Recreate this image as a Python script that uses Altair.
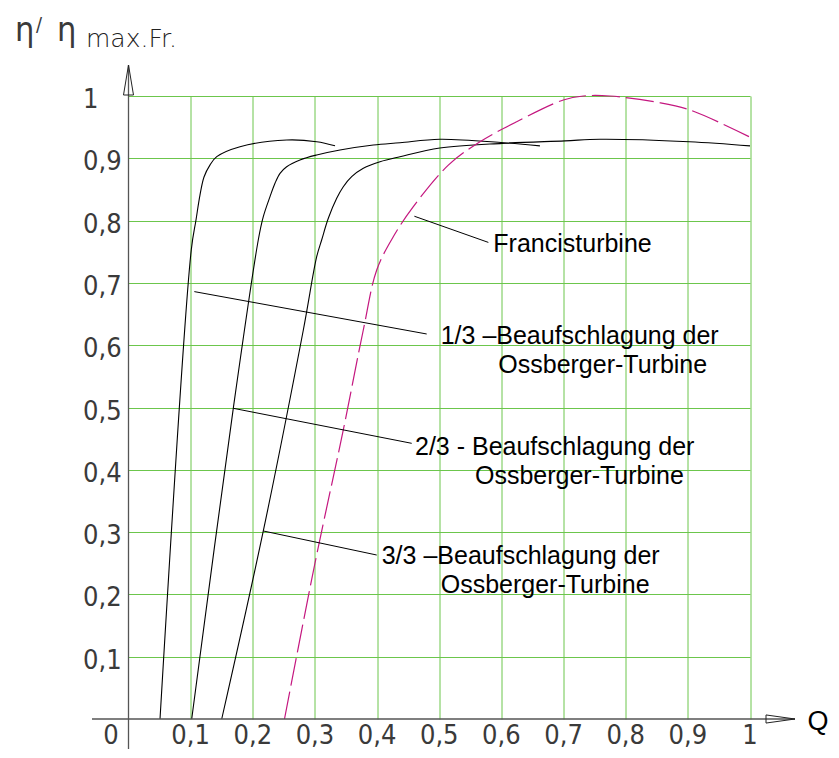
import altair as alt
import pandas as pd

# ---------------- data ----------------
q_13 = [0.0507, 0.101, 0.1086, 0.115, 0.1215, 0.131, 0.142, 0.1794, 0.2545, 0.3028, 0.3323]
eta_13 = [0.0, 0.753, 0.801, 0.841, 0.870, 0.889, 0.9026, 0.9186, 0.9294, 0.9266, 0.920]

q_23 = [0.1017, 0.1686, 0.2088, 0.2169, 0.2277, 0.2357, 0.2438, 0.2545, 0.2759, 0.3028, 0.3403,
        0.3939, 0.4368, 0.501, 0.603, 0.662]
eta_23 = [0.0, 0.4987, 0.7689, 0.8063, 0.8384, 0.8599, 0.8759, 0.8865, 0.8973, 0.9053, 0.9133,
          0.9213, 0.925, 0.9305, 0.925, 0.920]

q_33 = [0.15, 0.2169, 0.2813, 0.3028, 0.3108, 0.3215, 0.335, 0.3456, 0.3591, 0.3778, 0.4047,
        0.4368, 0.501, 0.6014, 0.7023, 0.7587, 0.9023, 1.0]
eta_33 = [0.0, 0.3018, 0.6244, 0.742, 0.7689, 0.8037, 0.8358, 0.8544, 0.8705, 0.884, 0.8945,
          0.9026, 0.9165, 0.924, 0.928, 0.9305, 0.9266, 0.920]

q_fr = [0.251, 0.300, 0.3456, 0.3778, 0.3994, 0.426, 0.458, 0.5146, 0.5656, 0.6246, 0.6996, 0.7318, 0.7747, 0.8499, 0.9035, 1.0]
eta_fr = [0.0, 0.25, 0.464, 0.6244, 0.7207, 0.774, 0.822, 0.889, 0.9266, 0.9587, 0.9936, 1.0, 1.0, 0.990, 0.9775, 0.934]

grid_values = [0.1, 0.2, 0.3, 0.4, 0.5, 0.6, 0.7, 0.8, 0.9, 1.0]
x_tick_values = [0.1, 0.2, 0.3, 0.4, 0.5, 0.6, 0.7, 0.8, 0.9, 1.0]
x_tick_labels = ["0,1", "0,2", "0,3", "0,4", "0,5", "0,6", "0,7", "0,8", "0,9", "1"]
y_tick_values = [0.1, 0.2, 0.3, 0.4, 0.5, 0.6, 0.7, 0.8, 0.9, 1.0]
y_tick_labels = ["0,1", "0,2", "0,3", "0,4", "0,5", "0,6", "0,7", "0,8", "0,9", "1"]

# annotation texts (anchor = left end of baseline, in data units)
ann_text = ["Francisturbine",
            "1/3 \u2013Beaufschlagung der", "Ossberger-Turbine",
            "2/3 - Beaufschlagung der", "Ossberger-Turbine",
            "3/3 \u2013Beaufschlagung der", "Ossberger-Turbine"]
ann_q = [0.587, 0.5023, 0.595, 0.461, 0.5575, 0.4074, 0.5023]
ann_eta = [0.750, 0.6014, 0.555, 0.4238, 0.378, 0.2488, 0.2018]

# leader lines
lead_q1 = [0.460, 0.1059, 0.1686, 0.2169]
lead_e1 = [0.807, 0.686, 0.4987, 0.3018]
lead_q2 = [0.579, 0.4798, 0.4557, 0.3994]
lead_e2 = [0.765, 0.618, 0.4425, 0.2632]

# ---------------- styling ----------------
GREEN = "#6cc64c"
MAGENTA = "#c4177f"
AXIS = "#555555"
W, H = 621.5, 623
TICKFONT = "Liberation Sans Narrow, DejaVu Sans Condensed, sans-serif"
TXTFONT = "Liberation Sans, Arial, sans-serif"
TICKCOL = "#3a3a3a"

xs = alt.Scale(domain=[0, 1], nice=False, zero=False)
ys = alt.Scale(domain=[0, 1], nice=False, zero=False)
xaxis = alt.Axis(values=grid_values, grid=True, labels=False, ticks=False, domain=False,
                 title=None, gridColor=GREEN, gridWidth=1, gridOpacity=1)
yaxis = alt.Axis(values=grid_values, grid=True, labels=False, ticks=False, domain=False,
                 title=None, gridColor=GREEN, gridWidth=1, gridOpacity=1)

oss = pd.DataFrame({
    "q": q_13 + q_23 + q_33,
    "eta": eta_13 + eta_23 + eta_33,
    "s": ["1/3"] * len(q_13) + ["2/3"] * len(q_23) + ["3/3"] * len(q_33),
})
fr = pd.DataFrame({"q": q_fr, "eta": eta_fr})

X = alt.X("q:Q", scale=xs, axis=xaxis)
Y = alt.Y("eta:Q", scale=ys, axis=yaxis)

oss_lines = alt.Chart(oss).mark_line(color="black", strokeWidth=1.1, interpolate="catmull-rom").encode(
    x=X, y=Y, detail="s:N", order="q:Q")
fr_line = alt.Chart(fr).mark_line(color=MAGENTA, strokeWidth=1.2, strokeDash=[28, 6],
                                  interpolate="catmull-rom").encode(x=X, y=Y, order="q:Q")

leaders = alt.Chart(pd.DataFrame({"q": lead_q1, "eta": lead_e1, "q2": lead_q2, "eta2": lead_e2})
                    ).mark_rule(color="black", strokeWidth=1).encode(x=X, y=Y, x2="q2:Q", y2="eta2:Q")

ann = alt.Chart(pd.DataFrame({"q": ann_q, "eta": ann_eta, "t": ann_text})).mark_text(
    align="left", baseline="alphabetic", font=TXTFONT, fontSize=25, color="black"
).encode(x=X, y=Y, text="t:N")

# axes lines and arrows
x_axis_line = alt.Chart(pd.DataFrame({"a": [0]})).mark_rule(color=AXIS, strokeWidth=1.3).encode(
    x=alt.value(-36.5), x2=alt.value(666.5), y=alt.value(H))
y_axis_line = alt.Chart(pd.DataFrame({"a": [0]})).mark_rule(color=AXIS, strokeWidth=1.3).encode(
    x=alt.value(0), y=alt.value(-31), y2=alt.value(654))
y_arrow = alt.Chart(pd.DataFrame({"a": [0]})).mark_point(
    shape="M0,-1L0.333,1L-0.333,1Z", filled=False, size=900, color="#222", strokeWidth=1, opacity=1
).encode(x=alt.value(0), y=alt.value(-16))
x_arrow = alt.Chart(pd.DataFrame({"a": [0]})).mark_point(
    shape="M1,0L-1,-0.28L-1,0.28Z", filled=False, size=841, color="#222", strokeWidth=1, opacity=1
).encode(x=alt.value(652), y=alt.value(H))

# tick labels
xlab = alt.Chart(pd.DataFrame({"q": x_tick_values, "t": x_tick_labels})).mark_text(
    align="center", baseline="alphabetic", font=TICKFONT, fontSize=27, color=TICKCOL
).encode(x=X, y=alt.value(648), text="t:N")
xlab0 = alt.Chart(pd.DataFrame({"t": ["0"]})).mark_text(
    align="center", baseline="alphabetic", font=TICKFONT, fontSize=27, color=TICKCOL
).encode(x=alt.value(-17.5), y=alt.value(648), text="t:N")
ylab = alt.Chart(pd.DataFrame({"eta": y_tick_values, "t": y_tick_labels})).mark_text(
    align="left", baseline="alphabetic", font=TICKFONT, fontSize=27, color=TICKCOL, dy=12
).encode(x=alt.value(-45.5), y=Y, text="t:N")

# axis titles
qlab = alt.Chart(pd.DataFrame({"t": ["Q"]})).mark_text(
    align="left", baseline="alphabetic", font=TXTFONT, fontSize=27, color="black"
).encode(x=alt.value(679), y=alt.value(634), text="t:N")
eta1 = alt.Chart(pd.DataFrame({"t": ["\u03b7"]})).mark_text(
    align="left", baseline="alphabetic", font=TICKFONT, fontSize=34, color=TICKCOL
).encode(x=alt.value(-113.5), y=alt.value(-55), text="t:N")
slash = alt.Chart(pd.DataFrame({"t": ["/"]})).mark_text(
    align="left", baseline="alphabetic", font=TICKFONT, fontSize=20, color=TICKCOL
).encode(x=alt.value(-92.5), y=alt.value(-65), text="t:N")
eta2 = alt.Chart(pd.DataFrame({"t": ["\u03b7"]})).mark_text(
    align="left", baseline="alphabetic", font=TICKFONT, fontSize=34, color=TICKCOL
).encode(x=alt.value(-71.5), y=alt.value(-55), text="t:N")
maxfr = alt.Chart(pd.DataFrame({"t": ["max.Fr."]})).mark_text(
    align="left", baseline="alphabetic", font="DejaVu Sans", fontSize=25, fontWeight=200, color="#222"
).encode(x=alt.value(-42.5), y=alt.value(-49.5), text="t:N")

chart = alt.layer(
    oss_lines, fr_line, leaders, ann, x_axis_line, y_axis_line, y_arrow, x_arrow,
    xlab, xlab0, ylab, qlab, eta1, slash, eta2, maxfr
).properties(
    width=W, height=H,
    padding={"left": 120.5, "top": 88, "right": 81, "bottom": 30},
    autosize=alt.AutoSizeParams(type="none"),
).configure_view(stroke=None)

chart.save("out.html", embed_options={"renderer": "svg", "actions": False})
